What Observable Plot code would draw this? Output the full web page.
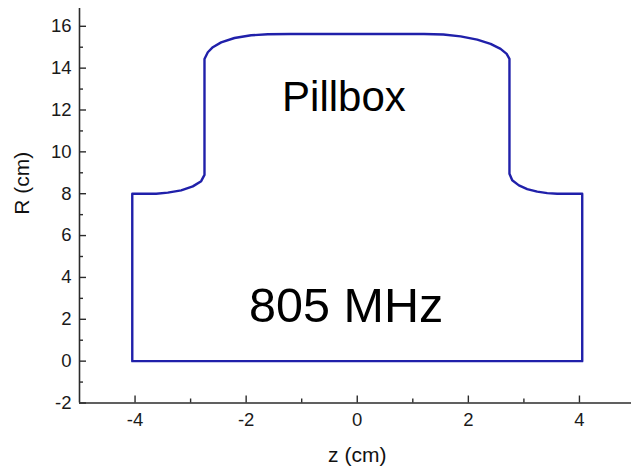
<!DOCTYPE html>
<html>
<head>
<meta charset="utf-8">
<script src="https://cdn.jsdelivr.net/npm/d3@7"></script>
<script src="https://cdn.jsdelivr.net/npm/@observablehq/plot@0.6"></script>
<style>
  html, body { margin: 0; padding: 0; background: #fff; }
  #chart { width: 631px; height: 469px; overflow: hidden; }
</style>
</head>
<body>
<div id="chart"></div>
<script>
// Cavity wall profile, traced clockwise from the lower-left corner (cm)
const zCm = [-4.05, -4.05, -3.62, -3.41, -3.17, -2.96, -2.81, -2.75,
             -2.75, -2.69, -2.60, -2.45, -2.21, -1.91, -1.61, -1.20,
              1.20, 1.55, 1.86, 2.16, 2.40, 2.58, 2.69, 2.74,
              2.74, 2.79, 2.91, 3.06, 3.24, 3.42, 3.60, 4.05,
              4.05, -4.05];
const rCm = [0, 8.0, 8.0, 8.05, 8.16, 8.35, 8.6, 8.9,
             14.44, 14.76, 15.0, 15.23, 15.44, 15.57, 15.62, 15.63,
             15.63, 15.61, 15.52, 15.36, 15.16, 14.92, 14.68, 14.44,
             8.95, 8.64, 8.40, 8.22, 8.10, 8.03, 8.0, 8.0,
             0, 0];

// Axis ticks
const zMajor = [-4, -2, 0, 2, 4];
const zMinor = [-3, -1, 1, 3];
const rMajor = [-2, 0, 2, 4, 6, 8, 10, 12, 14, 16];
const rMinor = [-1, 1, 3, 5, 7, 9, 11, 13, 15];

// Annotations
const labels = ["Pillbox", "805 MHz"];
const labelZ = [-0.24, -0.2];
const labelR = [12.6, 2.6];
const labelSize = [42, 48.5];

const profile = zCm.map((z, i) => ({z, r: rCm[i]}));
const notes = labels.map((text, i) => ({text, z: labelZ[i], r: labelR[i], size: labelSize[i]}));

const W = 631, H = 469;
const mL = 79, mR = 0, mT = 8, mB = 66.5;
const plotW = W - mL - mR, plotH = H - mT - mB;
const axisColor = "#2b2b2b";

const chart = Plot.plot({
  width: W,
  height: H,
  marginLeft: mL,
  marginRight: mR,
  marginTop: mT,
  marginBottom: mB,
  x: {domain: [-5, 5], range: [mL, 634.5], axis: null},
  y: {domain: [-2, 16.85], axis: null},
  style: {fontFamily: "'Liberation Sans', Arial, sans-serif", background: "#fff", color: "#111", overflow: "visible"},
  marks: [
    // wall profile
    Plot.line(profile, {x: "z", y: "r", stroke: "#2020aa", strokeWidth: 2.4, curve: "linear"}),
    // axis lines
    Plot.ruleY([-2], {stroke: axisColor, strokeWidth: 1.6}),
    Plot.ruleX([-5], {stroke: axisColor, strokeWidth: 1.6}),
    // inward ticks
    Plot.tickX(zMajor, {x: d => d, insetTop: plotH - 7, stroke: axisColor, strokeWidth: 1.4}),
    Plot.tickX(zMinor, {x: d => d, insetTop: plotH - 4, stroke: axisColor, strokeWidth: 1.4}),
    Plot.tickY(rMajor, {y: d => d, insetRight: plotW - 7, stroke: axisColor, strokeWidth: 1.4}),
    Plot.tickY(rMinor, {y: d => d, insetRight: plotW - 4, stroke: axisColor, strokeWidth: 1.4}),
    // tick labels
    Plot.text(zMajor, {x: d => d, text: d => String(d), frameAnchor: "bottom", dy: 17, lineAnchor: "middle", fontSize: 18.5, fill: "#1a1a1a"}),
    Plot.text(rMajor, {y: d => d, text: d => String(d), frameAnchor: "left", dx: -8, textAnchor: "end", fontSize: 18.5, fill: "#1a1a1a"}),
    // axis titles
    Plot.text(["z (cm)"], {x: 0, frameAnchor: "bottom", dy: 52, lineAnchor: "middle", fontSize: 21, fill: "#111"}),
    Plot.text(["R (cm)"], {y: 7, frameAnchor: "left", dx: -57, rotate: -90, lineAnchor: "middle", fontSize: 21, fill: "#111"}),
    // annotations
    Plot.text(notes, {x: "z", y: "r", text: "text", fontSize: d => d.size, lineAnchor: "middle", fill: "#000"})
  ]
});

document.getElementById("chart").appendChild(chart);
</script>
</body>
</html>
